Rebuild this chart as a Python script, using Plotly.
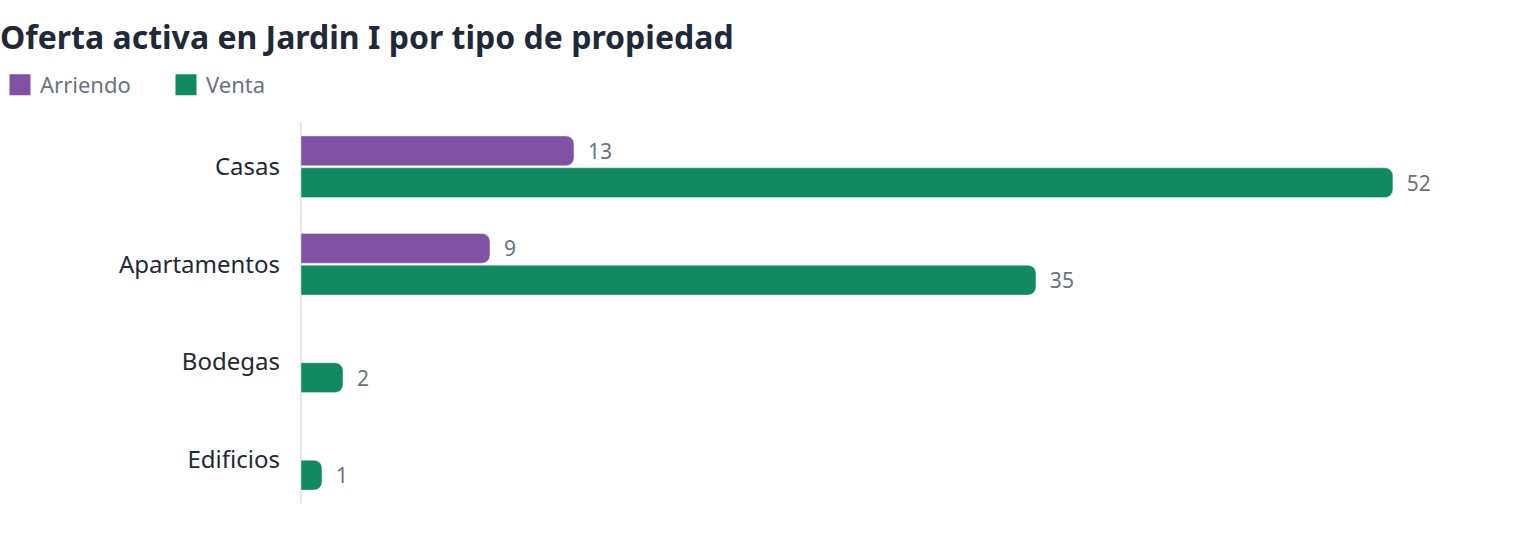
import plotly.graph_objects as go

categories = ["Casas", "Apartamentos", "Bodegas", "Edificios"]
series_names = ["Arriendo", "Venta"]
arriendo = [13, 9, None, None]
venta = [52, 35, 2, 1]
colors = ["#7f52a3", "#118a62"]

title_text = "Oferta activa en Jardin I por tipo de propiedad"
FONT = "Noto Sans, Open Sans, sans-serif"

fig = go.Figure()
for name, vals, col in zip(series_names, [arriendo, venta], colors):
    fig.add_trace(go.Bar(
        name=name, y=categories, x=vals, orientation="h",
        marker=dict(color=col, cornerradius=8),
        texttemplate="  %{x}", textposition="outside",
        textfont=dict(color="#6b7280", size=21, family=FONT), cliponaxis=False,
        showlegend=False, legendgroup=name,
    ))
# legend entries (larger square swatches)
for name, col in zip(series_names, colors):
    fig.add_trace(go.Scatter(
        name=name, x=[None], y=[None], mode="markers", legendgroup=name,
        marker=dict(symbol="square", size=16, color=col, line=dict(color=col, width=5)),
        hoverinfo="skip",
    ))

fig.add_shape(type="line", xref="paper", yref="paper", x0=0, x1=0, y0=0.012, y1=0.988,
              line=dict(color="#e5e7eb", width=2), layer="below")

PLOT_L, PLOT_W = 301, 1520 - 301 - 20

fig.update_layout(
    width=1520, height=544,
    margin=dict(l=PLOT_L, r=20, t=115, b=36),
    paper_bgcolor="white", plot_bgcolor="white",
    font=dict(family=FONT, color="#1f2937"),
    barmode="group", bargap=0.347, bargroupgap=0.0625,
    title=dict(text="<b>" + title_text + "</b>", xref="container", x=0, xanchor="left",
               yref="container", y=1 - 38 / 544, yanchor="middle",
               font=dict(size=32, color="#1f2937", family=FONT)),
    legend=dict(orientation="h", xref="paper", x=(-6 - PLOT_L) / PLOT_W, xanchor="left",
                yref="container", y=1 - 85 / 544, yanchor="middle",
                font=dict(size=22, color="#6b7280", family=FONT),
                entrywidth=121, entrywidthmode="pixels",
                itemsizing="trace", traceorder="normal"),
    xaxis=dict(range=[0, 57.1], visible=False, showgrid=False, zeroline=False),
    yaxis=dict(autorange="reversed", showgrid=False, showline=False, zeroline=False,
               ticks="", ticklabelstandoff=20,
               tickfont=dict(size=24, color="#1f2937", family=FONT)),
)

fig.write_html("out.html")
